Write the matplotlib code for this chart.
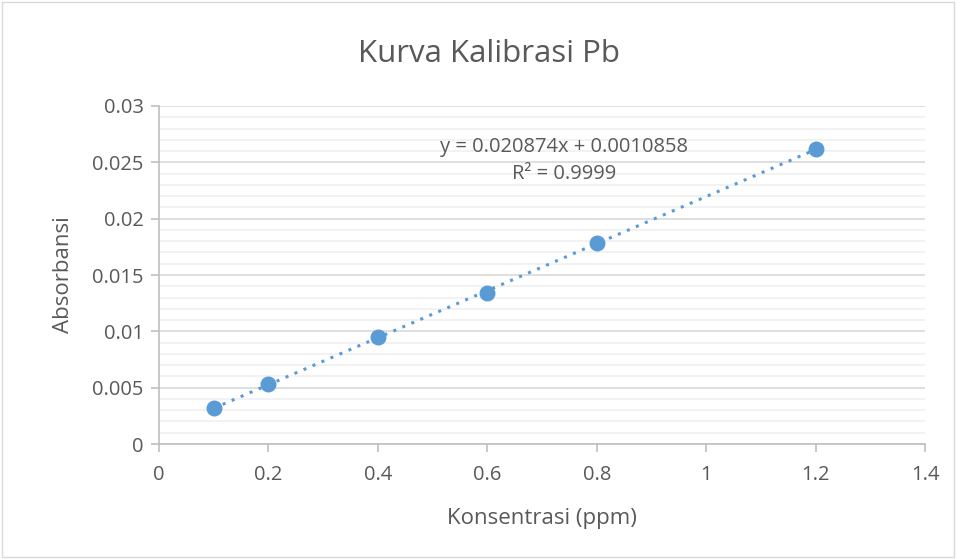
import numpy as np
import matplotlib.pyplot as plt
from matplotlib.patches import Rectangle
from matplotlib.ticker import MultipleLocator

plt.rcParams['font.family'] = ['Open Sans', 'DejaVu Sans']

konsentrasi = [0.1, 0.2, 0.4, 0.6, 0.8, 1.2]
absorbansi = [0.0032, 0.0053, 0.0095, 0.0134, 0.0178, 0.0262]
eq_text = "y = 0.020874x + 0.0010858"
r2_text = "R² = 0.9999"

txt = "#595959"
blue = "#5B9BD5"

fig = plt.figure(figsize=(9.56, 5.59), dpi=100)
ax = fig.add_axes([0.1663, 0.2057, 0.8013, 0.6047])

fig.patches.append(Rectangle((0.002, 0.004), 0.996, 0.992, transform=fig.transFigure,
                             fill=False, edgecolor="#D9D9D9", linewidth=1))

# linear trendline
slope, intercept = np.polyfit(konsentrasi, absorbansi, 1)
xt = np.array([min(konsentrasi), max(konsentrasi)])
ax.plot(xt, slope * xt + intercept, linestyle=(0, (1, 2.2)), color=blue, linewidth=2.2, zorder=2)
ax.scatter(konsentrasi, absorbansi, s=110, color=blue, zorder=3)

ax.set_xlim(0, 1.4)
ax.set_ylim(0, 0.03)
ax.yaxis.set_minor_locator(MultipleLocator(0.001))
ax.set_xticks(np.arange(0, 1.41, 0.2))
ax.set_xticklabels(["0", "0.2", "0.4", "0.6", "0.8", "1", "1.2", "1.4"])
ax.set_yticks(np.arange(0, 0.0301, 0.005))
ax.set_yticklabels(["0", "0.005", "0.01", "0.015", "0.02", "0.025", "0.03"])

ax.grid(axis="y", which="major", color="#D9D9D9", linewidth=1.2)
ax.grid(axis="y", which="minor", color="#F0F0F0", linewidth=1.2)
ax.set_axisbelow(True)

for s in ["top", "right"]:
    ax.spines[s].set_visible(False)
ax.spines["left"].set_color("#BFBFBF")
ax.spines["bottom"].set_color("#BFBFBF")
ax.spines["left"].set_linewidth(1.2)
ax.spines["bottom"].set_linewidth(1.2)
ax.tick_params(axis="both", which="major", colors="#BFBFBF", labelcolor=txt,
               labelsize=14.5, length=6, width=1.2)
ax.tick_params(axis="y", which="minor", length=0)
ax.tick_params(axis="x", pad=9)
ax.tick_params(axis="y", pad=5)

ax.set_xlabel("Konsentrasi (ppm)", fontsize=16, color=txt, labelpad=17)
ax.set_ylabel("Absorbansi", fontsize=16, color=txt, labelpad=13)
fig.text(0.512, 0.903, "Kurva Kalibrasi Pb", fontsize=22.5, color=txt, ha="center", va="center")

ax.text(0.740, 0.02635, eq_text, fontsize=14.5, color=txt, ha="center", va="center")
ax.text(0.740, 0.02396, r2_text, fontsize=14.5, color=txt, ha="center", va="center")

fig.savefig("out.png", dpi=100)
